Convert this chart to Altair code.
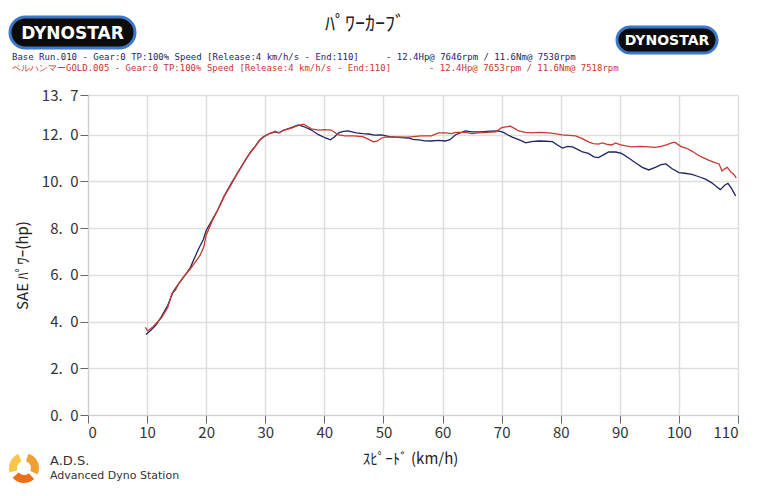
import altair as alt
import pandas as pd

# ---- data ----
base_speed = [9.8, 10.5, 11.5, 12.4, 13.5, 14.4, 15.3, 16.3, 17.3, 18.6, 19.5, 20.0, 21.0, 22.0, 23.0,
              24.2, 25.4, 26.6, 27.5, 28.3, 29.0, 29.7, 30.7, 31.7, 32.3, 33.2, 34.4, 35.6, 36.5, 37.8,
              39.0, 40.2, 41.0, 41.7, 42.4, 43.2, 44.0, 45.4, 46.5, 47.5, 48.5, 49.7, 51.0, 52.0, 53.0,
              54.2, 55.0, 56.0, 57.0, 58.1, 59.3, 60.5, 61.3, 62.2, 63.0, 63.9, 65.0, 66.6, 68.0, 69.5,
              70.3, 71.0, 71.8, 73.0, 74.1, 75.0, 76.3, 77.5, 78.6, 79.5, 80.3, 81.2, 82.0, 83.0, 83.7,
              84.7, 85.6, 86.4, 87.3, 88.1, 89.3, 90.3, 91.5, 92.7, 93.8, 94.9, 96.0, 97.0, 97.8, 98.8,
              100.0, 101.0, 102.2, 103.4, 104.5, 105.5, 106.5, 107.0, 107.8, 108.3, 108.9, 109.6]
base_hp = [3.45, 3.6, 3.85, 4.2, 4.7, 5.27, 5.6, 5.95, 6.3, 7.05, 7.5, 7.9, 8.35, 8.8, 9.35,
           9.9, 10.4, 10.9, 11.25, 11.5, 11.75, 11.9, 12.05, 12.12, 12.08, 12.2, 12.3, 12.42, 12.35, 12.2,
           12.0, 11.86, 11.78, 11.9, 12.08, 12.14, 12.16, 12.08, 12.05, 12.03, 11.98, 11.99, 11.92, 11.9, 11.88,
           11.86, 11.8, 11.78, 11.74, 11.73, 11.76, 11.73, 11.8, 12.0, 12.08, 12.16, 12.12, 12.12, 12.15, 12.16,
           12.1, 12.0, 11.9, 11.78, 11.65, 11.7, 11.73, 11.72, 11.7, 11.55, 11.43, 11.5, 11.48, 11.35, 11.26,
           11.2, 11.05, 11.02, 11.15, 11.26, 11.26, 11.2, 11.0, 10.79, 10.6, 10.49, 10.6, 10.72, 10.75, 10.55,
           10.38, 10.35, 10.3, 10.2, 10.1, 9.95, 9.75, 9.65, 9.85, 9.92, 9.7, 9.38]

bell_speed = [9.7, 10.1, 11.0, 12.4, 13.5, 14.2, 14.8, 15.3, 16.3, 17.3, 18.3, 19.0, 19.6, 20.0, 21.0,
              22.0, 23.0, 24.2, 25.4, 26.6, 27.5, 28.3, 29.0, 29.7, 30.7, 31.7, 32.3, 33.2, 34.4, 35.6,
              36.5, 37.8, 39.0, 40.0, 41.2, 42.0, 42.4, 43.5, 45.0, 46.5, 47.5, 48.3, 48.9, 49.7, 50.3,
              52.0, 54.2, 55.5, 56.4, 58.1, 59.3, 60.5, 61.5, 62.2, 63.9, 65.0, 66.1, 67.5, 69.0, 70.0,
              71.0, 71.5, 72.3, 72.9, 74.0, 75.1, 76.5, 78.0, 79.0, 80.2, 81.5, 82.5, 83.5, 84.7, 85.5,
              86.4, 87.0, 88.0, 88.6, 89.3, 90.0, 91.0, 92.0, 93.5, 94.9, 96.0, 97.0, 98.0, 98.8, 99.3,
              100.3, 101.2, 102.2, 103.4, 104.3, 105.1, 106.0, 106.8, 107.3, 107.8, 108.2, 108.8, 109.3, 109.7]
bell_hp = [3.75, 3.6, 3.78, 4.15, 4.6, 5.2, 5.35, 5.6, 5.95, 6.25, 6.6, 6.85, 7.2, 7.7, 8.3,
           8.8, 9.35, 9.85, 10.4, 10.9, 11.25, 11.5, 11.75, 11.92, 12.05, 12.15, 12.08, 12.2, 12.28, 12.4,
           12.45, 12.25, 12.2, 12.22, 12.2, 12.05, 11.99, 11.95, 11.95, 11.92, 11.8, 11.7, 11.72, 11.86, 11.9,
           11.9, 11.9, 11.93, 11.95, 11.95, 12.08, 12.08, 12.05, 12.1, 12.1, 12.05, 12.08, 12.1, 12.12, 12.3,
           12.35, 12.37, 12.25, 12.16, 12.1, 12.08, 12.1, 12.08, 12.05, 11.99, 11.97, 11.95, 11.85, 11.69, 11.62,
           11.6, 11.65, 11.58, 11.56, 11.65, 11.58, 11.52, 11.48, 11.5, 11.48, 11.46, 11.5, 11.58, 11.65, 11.68,
           11.5, 11.43, 11.3, 11.1, 11.0, 10.9, 10.82, 10.75, 10.45, 10.55, 10.6, 10.4, 10.3, 10.15]

x_ticks = [0, 10, 20, 30, 40, 50, 60, 70, 80, 90, 100, 110]
y_ticks = [0, 2, 4, 6, 8, 10, 12, 13.7]

title_text = "ﾊﾟﾜｰｶｰﾌﾞ"
x_title = "ｽﾋﾟｰﾄﾞ (km/h)"
y_title = "SAE ﾊﾟﾜｰ(hp)"
line1a = "Base Run.010 - Gear:0 TP:100% Speed [Release:4 km/h/s - End:110]"
line1b = "- 12.4Hp@ 7646rpm / 11.6Nm@ 7530rpm"
line2a = "ベルハンマーGOLD.005 - Gear:0 TP:100% Speed [Release:4 km/h/s - End:110]"
line2b = "- 12.4Hp@ 7653rpm / 11.6Nm@ 7518rpm"

NAVY = "#1f2566"
RED = "#c8392f"
JP = "Noto Sans CJK JP"

base_df = pd.DataFrame({"speed": base_speed, "hp": base_hp})
bell_df = pd.DataFrame({"speed": bell_speed, "hp": bell_hp})
one = pd.DataFrame({"a": [0]})

x_enc = alt.X("speed:Q", scale=alt.Scale(domain=[0, 110], nice=False, zero=False),
              axis=alt.Axis(values=x_ticks, title=x_title, grid=True, gridColor="#dedede", gridWidth=1.5,
                            labelFont=JP, labelFontSize=15, labelColor="#333", labelPadding=2,
                            tickColor="#666", tickSize=8, domainColor="#cfcfcf",
                            titleFont=JP, titleFontSize=15, titleFontWeight="normal", titleColor="#222",
                            titleX=322, titleY=43, titleBaseline="middle", titleAlign="center"))
y_enc = alt.Y("hp:Q", scale=alt.Scale(domain=[0, 13.7], nice=False, zero=False),
              axis=alt.Axis(values=y_ticks, title=y_title, grid=True, gridColor="#dedede", gridWidth=1.5,
                            labelExpr="replace(format(datum.value, '.1f'), '.', '.\u2002')",
                            labelFont=JP, labelFontSize=15, labelColor="#333", labelPadding=2,
                            tickColor="#666", tickSize=8, domainColor="#cfcfcf",
                            titleFont=JP, titleFontSize=15, titleFontWeight="normal", titleColor="#222",
                            titleX=-66, titleY=170, titleAngle=-90, titleBaseline="middle", titleAlign="center"))

blue_line = alt.Chart(base_df).mark_line(color=NAVY, strokeWidth=1.3).encode(x=x_enc, y=y_enc)
red_line = alt.Chart(bell_df).mark_line(color=RED, strokeWidth=1.3).encode(x="speed:Q", y="hp:Q")


def txt(text, x, y, size, color="#222", font=JP, align="left", weight="normal", angle=0):
    return alt.Chart(one).mark_text(text=text, align=align, baseline="middle", fontSize=size,
                                    font=font, color=color, fontWeight=weight, angle=angle).encode(
        x=alt.value(x), y=alt.value(y))


def logo(x0, x1, y0, y1, size):
    rect = alt.Chart(one).mark_rect(fill="#0b0b0b", stroke="#3b78c8", strokeWidth=3,
                                    cornerRadius=(y1 - y0) / 2).encode(
        x=alt.value(x0), x2=alt.value(x1), y=alt.value(y0), y2=alt.value(y1))
    t = txt("DYNOSTAR", (x0 + x1) / 2, (y0 + y1) / 2 + 1, size, color="white",
            font="DejaVu Sans", align="center", weight="bold")
    return rect + t


ads_icon = alt.layer(
    alt.Chart(one).mark_arc(radius=15, radius2=7, theta=0.3, theta2=2.0, color="#f0a030").encode(
        x=alt.value(-64), y=alt.value(373)),
    alt.Chart(one).mark_arc(radius=15, radius2=7, theta=2.4, theta2=4.0, color="#e8701a").encode(
        x=alt.value(-64), y=alt.value(373)),
    alt.Chart(one).mark_arc(radius=15, radius2=7, theta=4.4, theta2=5.9, color="#f6c64a").encode(
        x=alt.value(-64), y=alt.value(373)),
)

chart = alt.layer(
    blue_line,
    red_line,
    logo(-78, 47, -78, -47, 17),
    logo(529, 629, -68, -42, 14),
    txt(title_text, 277, -70, 20, align="center"),
    txt(line1a, -76, -38, 9, color=NAVY, font="DejaVu Sans Mono"),
    txt(line1b, 298, -38, 9, color=NAVY, font="DejaVu Sans Mono"),
    txt(line2a, -76, -27, 9, color=RED, font="DejaVu Sans Mono"),
    txt(line2b, 341, -27, 9, color=RED, font="DejaVu Sans Mono"),
    ads_icon,
    txt("A.D.S.", -38, 366, 13, color="#333", font="DejaVu Sans"),
    txt("Advanced Dyno Station", -38, 381, 11, color="#333", font="DejaVu Sans"),
).properties(
    width=650, height=320,
    autosize=alt.AutoSizeParams(type="none"),
    padding={"left": 80, "top": 87, "right": 14, "bottom": 70},
    background="white",
).configure_view(stroke=None)

chart.save("out.html", embed_options={"renderer": "svg", "actions": False})
